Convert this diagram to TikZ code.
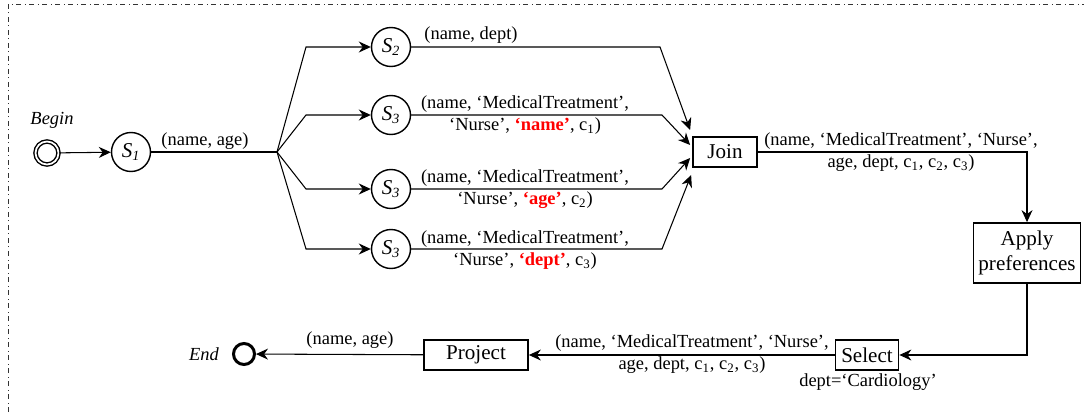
\documentclass[tikz,border=0pt]{standalone}
\usepackage{fontspec}
\setmainfont{Liberation Serif}
\usetikzlibrary{arrows.meta,calc}
\tikzset{
  >={Stealth[length=2.4mm,width=2.2mm]},
  state/.style={circle,draw,line width=0.8pt,minimum size=7.8mm,inner sep=0pt,
    font=\fontsize{12}{14}\selectfont\itshape},
  op/.style={draw,line width=1pt,minimum height=6mm,inner sep=0pt,align=center,
    font=\fontsize{12}{14}\selectfont},
  tag/.style={font=\fontsize{10.5}{12.5}\selectfont,align=center,inner sep=0pt},
  flow/.style={->,draw=black,line width=0.6pt},
}

\begin{document}
\begin{tikzpicture}[x=0.02cm,y=-0.02cm]
  \useasboundingbox (0,0) rectangle (1084,412);
  \draw[dash dot,black!80] (8,412) -- (8,4) -- (1084,4);
  % states
  \node[circle,draw,double,line width=0.8pt,double distance=1pt,minimum size=4.6mm,inner sep=0pt] (begin) at (47,153) {};
  \node[tag,font=\fontsize{10.5}{12.5}\selectfont\itshape] (beginlbl) at (52,120) {Begin};
  \node[state] (s1) at (131,152) {S\textsubscript{1}};
  \coordinate (fork) at (277,152);
  \node[state] (s2) at (391,47) {S\textsubscript{2}};
  \node[state] (s3a) at (391,115) {S\textsubscript{3}};
  \node[state] (s3b) at (391,189) {S\textsubscript{3}};
  \node[state] (s3c) at (391,249) {S\textsubscript{3}};
  % operators
  \node[op,minimum width=12.8mm] (join) at (725,152) {Join};
  \node[op,minimum width=21.4mm,minimum height=12mm] (apply) at (1027,253) {Apply\\preferences};
  \node[op,minimum width=12.6mm] (select) at (867,355) {Select};
  \node[op,minimum width=20.8mm] (project) at (476,355) {Project};
  \node[circle,draw,line width=1.7pt,minimum size=4.2mm,inner sep=0pt] (end) at (244,354) {};
  \node[tag,font=\fontsize{10.5}{12.5}\selectfont\itshape] (endlbl) at (204,354) {End};
  \coordinate (j1) at ($(join.west)+(-2,-22)$);
  \coordinate (j2) at ($(join.west)+(-2,-7)$);
  \coordinate (j3) at ($(join.west)+(-2,6)$);
  \coordinate (j4) at ($(join.west)+(-1,23)$);
  % flows
  \draw[flow] (begin) -- (s1);
  \draw[flow,-] (s1) -- (fork);
  \foreach \s/\y in {s2/47,s3a/115,s3b/189,s3c/249}
    \draw[flow] (fork) -- (306,\y) -- (\s);
  \draw[flow] (s2) -- (660,47) -- (j1);
  \draw[flow] (s3a) -- (662,115) -- (j2);
  \draw[flow] (s3b) -- (662,189) -- (j3);
  \draw[flow] (s3c) -- (662,249) -- (j4);
  \draw[flow] (join) -| (apply);
  \draw[flow] (apply) |- (select);
  \draw[flow] (select) -- (project);
  \draw[flow] (project) -- (end);
  % labels
  \node[tag] (t1) at (205,141) {(name, age)};
  \node[tag] (t2) at (471,35) {(name, dept)};
  \node[tag] (t3a) at (525,115) {(name, `MedicalTreatment',\\`Nurse', \textcolor{red}{\textbf{`name'}}, c\textsubscript{1})};
  \node[tag] (t3b) at (525,189) {(name, `MedicalTreatment',\\`Nurse', \textcolor{red}{\textbf{`age'}}, c\textsubscript{2})};
  \node[tag] (t3c) at (525,250) {(name, `MedicalTreatment',\\`Nurse', \textcolor{red}{\textbf{`dept'}}, c\textsubscript{3})};
  \node[tag] (t4) at (901,152) {(name, `MedicalTreatment', `Nurse',\\age, dept, c\textsubscript{1}, c\textsubscript{2}, c\textsubscript{3})};
  \node[tag] (t5) at (692,354) {(name, `MedicalTreatment', `Nurse',\\age, dept, c\textsubscript{1}, c\textsubscript{2}, c\textsubscript{3})};
  \node[tag] (t6) at (350,340) {(name, age)};
  \node[tag] (t7) at (868,382) {dept=`Cardiology'};
\end{tikzpicture}
\end{document}
